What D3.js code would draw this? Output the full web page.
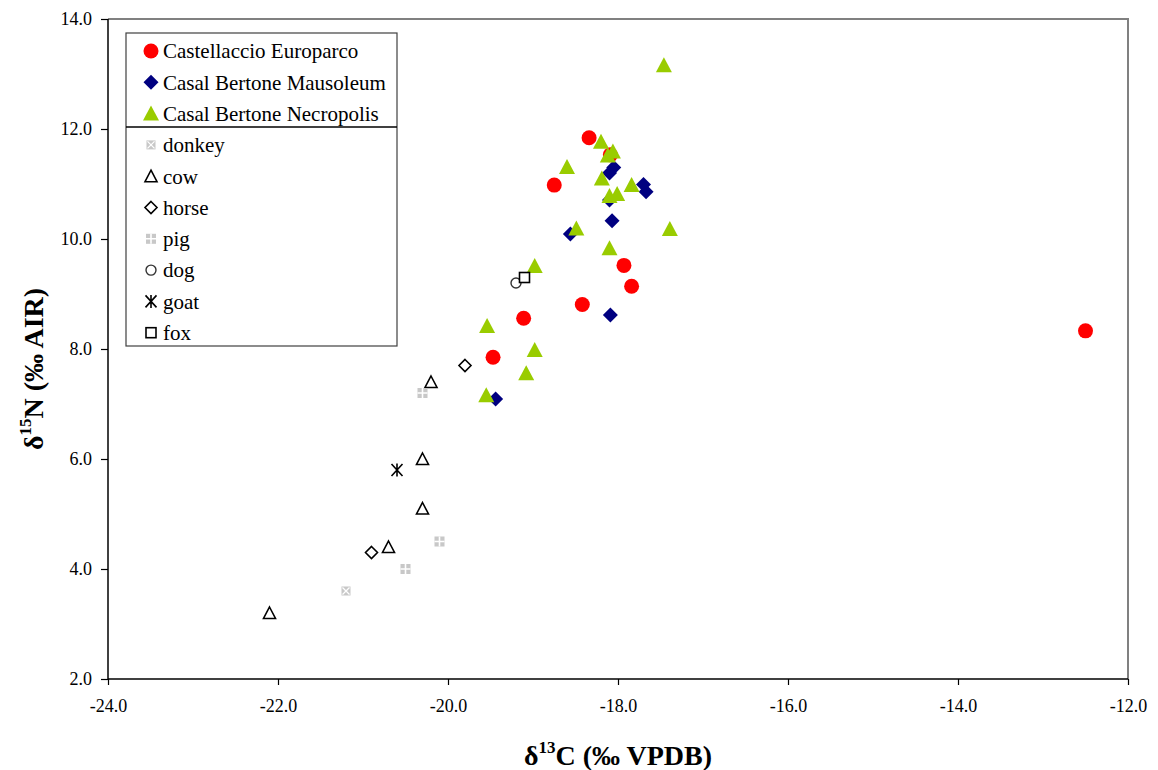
<!DOCTYPE html>
<html>
<head>
<meta charset="utf-8">
<script src="https://cdn.jsdelivr.net/npm/d3@7"></script>
<style>
  html, body { margin: 0; padding: 0; background: #fff; }
  svg { display: block; }
</style>
</head>
<body>
<svg id="chart" width="1158" height="770"></svg>
<script>
// ---- Data (δ13C, δ15N) ----
const castellaccioX = [-18.34, -18.75, -18.09, -17.93, -17.84, -18.42, -19.11, -19.47, -12.50];
const castellaccioY = [11.84, 10.98, 11.53, 9.52, 9.14, 8.81, 8.56, 7.85, 8.33];

const mausoleumX = [-18.10, -18.05, -17.70, -17.67, -18.10, -18.07, -18.56, -18.09, -19.44];
const mausoleumY = [11.20, 11.30, 10.99, 10.86, 10.71, 10.33, 10.09, 8.62, 7.09];

const necropolisX = [-18.20, -18.06, -18.12, -18.60, -18.19, -17.84, -18.10, -18.01, -18.49, -17.39, -18.10, -18.98, -19.54, -18.98, -19.08, -19.55, -17.46];
const necropolisY = [11.77, 11.59, 11.52, 11.31, 11.10, 10.98, 10.78, 10.82, 10.19, 10.18, 9.83, 9.51, 8.42, 7.98, 7.56, 7.16, 13.16];

const donkeyX = [-21.2];
const donkeyY = [3.6];
const cowX = [-20.2, -20.3, -20.3, -20.7, -22.1];
const cowY = [7.4, 6.0, 5.1, 4.4, 3.2];
const horseX = [-19.8, -20.9];
const horseY = [7.7, 4.3];
const pigX = [-20.3, -20.1, -20.5];
const pigY = [7.2, 4.5, 4.0];
const dogX = [-19.2];
const dogY = [9.2];
const goatX = [-20.6];
const goatY = [5.8];
const foxX = [-19.1];
const foxY = [9.3];

const xTicks = [-24, -22, -20, -18, -16, -14, -12];
const yTicks = [2, 4, 6, 8, 10, 12, 14];

const series = [
  { name: "Castellaccio Europarco", type: "circle", xs: castellaccioX, ys: castellaccioY },
  { name: "Casal Bertone Mausoleum", type: "diamond", xs: mausoleumX, ys: mausoleumY },
  { name: "Casal Bertone Necropolis", type: "triangle", xs: necropolisX, ys: necropolisY },
  { name: "donkey", type: "donkey", xs: donkeyX, ys: donkeyY },
  { name: "cow", type: "cow", xs: cowX, ys: cowY },
  { name: "horse", type: "horse", xs: horseX, ys: horseY },
  { name: "pig", type: "pig", xs: pigX, ys: pigY },
  { name: "dog", type: "dog", xs: dogX, ys: dogY },
  { name: "goat", type: "goat", xs: goatX, ys: goatY },
  { name: "fox", type: "fox", xs: foxX, ys: foxY }
];

const FONT = "'Liberation Serif', 'Times New Roman', Tinos, serif";

// ---- Layout ----
const svg = d3.select("#chart").attr("font-family", FONT);
const L = 108, R = 1128, T = 19, B = 679;
const x = d3.scaleLinear().domain([-24, -12]).range([L, R]);
const y = d3.scaleLinear().domain([2, 14]).range([B, T]);

// plot area border (top/right gray)
svg.append("path")
  .attr("d", `M${L},${T}H${R}V${B}`)
  .attr("fill", "none").attr("stroke", "#808080").attr("stroke-width", 2);

// axes
const fmt = v => d3.format(".1f")(v).replace("\u2212", "-");
const yAxis = svg.append("g").attr("transform", `translate(${L},0)`)
  .call(d3.axisLeft(y).tickValues(yTicks).tickFormat(fmt).tickSize(7).tickPadding(9));
const xAxis = svg.append("g").attr("transform", `translate(0,${B})`)
  .call(d3.axisBottom(x).tickValues(xTicks).tickFormat(fmt).tickSize(6).tickPadding(14));
[yAxis, xAxis].forEach(a => {
  a.attr("font-family", FONT);
  a.select(".domain").attr("stroke", "#000").attr("stroke-width", 1.5);
  a.selectAll(".tick line").attr("stroke", "#000").attr("stroke-width", 1.2);
  a.selectAll(".tick text").attr("fill", "#000")
    .style("font-size", "18px").style("font-family", FONT);
});
xAxis.select(".domain").attr("d", `M${L},0H${R}`);
yAxis.select(".domain").attr("d", `M0,${B}V${T}`);

// axis titles
const yt = svg.append("text")
  .attr("transform", `translate(43,${(T + B) / 2 + 20}) rotate(-90)`)
  .attr("text-anchor", "middle")
  .style("font-family", FONT)
  .style("font-size", "28px").style("font-weight", "bold");
yt.append("tspan").text("δ");
yt.append("tspan").attr("dy", -12).style("font-size", "17px").text("15");
yt.append("tspan").attr("dy", 12).text("N (‰ AIR)");

const xt = svg.append("text")
  .attr("x", (L + R) / 2).attr("y", 765)
  .attr("text-anchor", "middle")
  .style("font-family", FONT)
  .style("font-size", "28px").style("font-weight", "bold");
xt.append("tspan").text("δ");
xt.append("tspan").attr("dy", -12).style("font-size", "17px").text("13");
xt.append("tspan").attr("dy", 12).text("C (‰ VPDB)");

// ---- Markers ----
function marker(g, type) {
  switch (type) {
    case "circle":
      g.append("circle").attr("r", 7.5).attr("fill", "#FF0000");
      break;
    case "diamond":
      g.append("path").attr("d", "M0,-7.5L7.5,0L0,7.5L-7.5,0Z").attr("fill", "#000080");
      break;
    case "triangle":
      g.append("path").attr("d", "M0,-8L8,7L-8,7Z").attr("fill", "#99CC00");
      break;
    case "donkey":
      g.append("rect").attr("x", -4.5).attr("y", -4.5).attr("width", 9).attr("height", 9).attr("fill", "#C8C8C8");
      g.append("path").attr("d", "M-3.5,-3.5L3.5,3.5M3.5,-3.5L-3.5,3.5").attr("stroke", "#fff").attr("stroke-width", 1.3);
      break;
    case "cow":
      g.append("path").attr("d", "M0,-6L6,5.5L-6,5.5Z").attr("fill", "none").attr("stroke", "#000").attr("stroke-width", 1.6);
      break;
    case "horse":
      g.append("path").attr("d", "M0,-6L6,0L0,6L-6,0Z").attr("fill", "#fff").attr("stroke", "#000").attr("stroke-width", 1.6);
      break;
    case "pig":
      g.append("rect").attr("x", -5).attr("y", -5).attr("width", 10).attr("height", 10).attr("fill", "#C8C8C8");
      g.append("path").attr("d", "M0,-5V5M-5,0H5").attr("stroke", "#fff").attr("stroke-width", 1.6);
      break;
    case "dog":
      g.append("circle").attr("r", 5).attr("fill", "none").attr("stroke", "#333").attr("stroke-width", 1.4);
      break;
    case "goat":
      g.append("path").attr("d", "M-5.5,-6L5.5,6M5.5,-6L-5.5,6M0,-6.5V6.5").attr("stroke", "#000").attr("stroke-width", 1.6);
      break;
    case "fox":
      g.append("rect").attr("x", -5).attr("y", -5).attr("width", 10).attr("height", 10).attr("fill", "#fff").attr("stroke", "#000").attr("stroke-width", 1.6);
      break;
  }
}

// points
series.forEach(s => {
  const pts = s.xs.map((v, i) => [v, s.ys[i]]);
  svg.append("g").attr("class", "series").selectAll("g")
    .data(pts).join("g")
    .attr("transform", d => `translate(${x(d[0])},${y(d[1])})`)
    .each(function () { marker(d3.select(this), s.type); });
});

// ---- Legend ----
const lg = svg.append("g").attr("transform", "translate(126,33)");
lg.append("rect").attr("width", 271).attr("height", 313)
  .attr("fill", "#fff").attr("stroke", "#404040").attr("stroke-width", 1.2);
lg.append("line").attr("x1", 0).attr("x2", 271).attr("y1", 94).attr("y2", 94)
  .attr("stroke", "#000").attr("stroke-width", 1.5);
series.forEach((s, i) => {
  const cy = 18 + i * 31.3;
  const row = lg.append("g").attr("transform", `translate(25,${cy})`);
  marker(row, s.type);
  lg.append("text").attr("x", 37).attr("y", cy).attr("dy", "0.35em")
    .style("font-family", FONT)
    .style("font-size", "21px").text(s.name);
});
</script>
</body>
</html>
